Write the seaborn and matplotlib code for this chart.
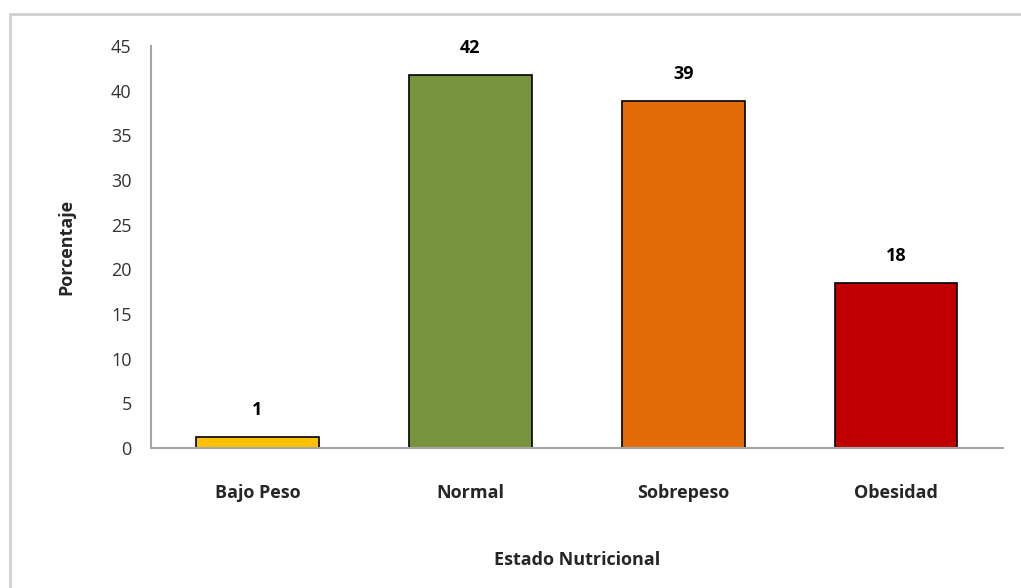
import matplotlib
matplotlib.use("Agg")
import matplotlib.pyplot as plt
import matplotlib.patches as mpatches
import seaborn as sns
import pandas as pd

# Data
categorias = ["Bajo Peso", "Normal", "Sobrepeso", "Obesidad"]
porcentajes = [1.2, 41.7, 38.8, 18.5]
etiquetas = ["1", "42", "39", "18"]
colores = ["#FFC000", "#77933C", "#E36C09", "#C00000"]

df = pd.DataFrame({"Estado": categorias, "Porcentaje": porcentajes})

sns.set_style("white")
plt.rcParams["font.family"] = ["Open Sans", "DejaVu Sans"]

fig = plt.figure(figsize=(10.21, 5.88), dpi=100)
ax = fig.add_axes([0.148, 0.238, 0.834, 0.684])

sns.barplot(data=df, x="Estado", y="Porcentaje", hue="Estado", palette=colores,
            saturation=1, width=0.575, edgecolor="black", linewidth=1.2,
            legend=False, ax=ax)

for i, (v, lab) in enumerate(zip(porcentajes, etiquetas)):
    ax.text(i, v + 2.0, lab, ha="center", va="bottom", fontsize=13,
            fontweight="bold", color="black")

ax.set_xlim(-0.5, 3.5)
ax.set_ylim(0, 45)
ax.set_yticks(range(0, 46, 5))
ax.tick_params(axis="y", labelsize=13, colors="#333333", length=0, pad=14)
ax.tick_params(axis="x", labelsize=13, length=0, pad=26)
for t in ax.get_xticklabels():
    t.set_fontweight("bold")

ax.set_xlabel("Estado Nutricional", fontsize=13, fontweight="bold", labelpad=35)
ax.set_ylabel("Porcentaje", fontsize=13, fontweight="bold", labelpad=26)

sns.despine(ax=ax)
for s in ["left", "bottom"]:
    ax.spines[s].set_color("#a6a6a6")
    ax.spines[s].set_linewidth(1.5)

# outer chart frame
frame = mpatches.Rectangle((10 / 1021, -0.1), 1.2, (588 - 14) / 588 + 0.1,
                           transform=fig.transFigure, fill=False,
                           edgecolor="#d0d0d0", linewidth=2)
fig.patches.append(frame)

fig.savefig("out.png", dpi=100)
